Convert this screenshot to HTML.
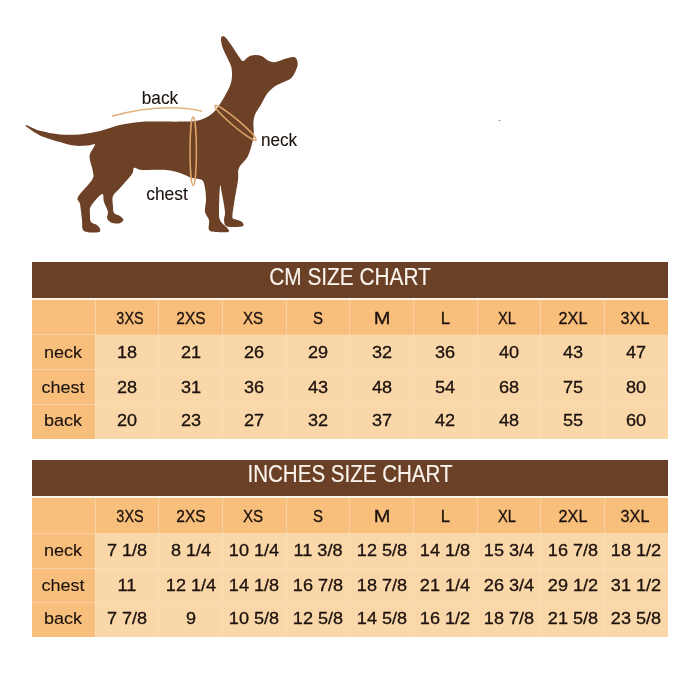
<!DOCTYPE html>
<html><head><meta charset="utf-8"><title>Size chart</title>
<style>
html,body{margin:0;padding:0;background:#fff;}
body{width:700px;height:700px;position:relative;overflow:hidden;font-family:"Liberation Sans",sans-serif;color:#1c120e;}
svg{position:absolute;left:0;top:0;}
.bar{position:absolute;left:32px;width:636px;height:35.8px;background:#6A4127;}
.tbl{position:absolute;left:32px;width:636px;background:#F9D7A8;}
.dk{position:absolute;background:#F7BF7B;}
.vs{position:absolute;width:1px;background:#fff;}
.hs{position:absolute;left:32px;height:1px;background:#fff;}
.t{position:absolute;white-space:nowrap;line-height:1em;-webkit-text-stroke:0.3px currentColor;}
#tx{position:absolute;left:0;top:0;width:700px;height:700px;will-change:transform;}
.w{color:#fbf4ec;-webkit-text-stroke:0.15px currentColor;}
.lt{-webkit-text-stroke:0.1px currentColor;}
</style></head><body>
<svg width="700" height="260" viewBox="0 0 700 260">
<path d="M26.8,125.2C29.1,125.9 34.5,129.3 40.0,130.8C45.5,132.3 53.3,133.8 60.0,134.4C66.7,135.0 73.3,135.0 80.0,134.4C86.7,133.8 93.3,132.6 100.0,131.0C106.7,129.4 113.3,126.5 120.0,125.0C126.7,123.5 133.3,122.6 140.0,122.0C146.7,121.4 153.3,121.7 160.0,121.6C166.7,121.5 174.2,121.7 180.0,121.6C185.8,121.5 190.6,121.9 195.1,121.1C199.6,120.3 203.7,118.8 207.1,116.9C210.5,115.1 212.8,113.3 215.7,110.0C218.6,106.7 221.9,101.2 224.3,97.1C226.7,92.9 229.0,88.8 230.3,85.1C231.6,81.4 231.9,78.0 232.0,74.9C232.1,71.8 231.9,69.3 231.1,66.3C230.2,63.3 228.3,60.0 226.9,56.9C225.5,53.8 223.6,50.4 222.6,47.4C221.6,44.4 220.9,40.8 220.9,38.9C220.9,37.0 221.8,36.4 222.6,36.3C223.4,36.1 224.3,36.1 226.0,38.0C227.7,39.9 230.6,44.1 232.9,47.4C235.2,50.7 238.0,55.4 239.7,57.7C241.4,60.0 241.7,61.2 243.1,61.1C244.5,61.0 246.3,57.9 248.3,56.9C250.3,55.9 252.8,55.2 255.1,55.1C257.4,55.0 259.7,55.3 262.0,56.3C264.3,57.3 266.6,60.1 268.9,61.1C271.2,62.1 272.8,62.4 275.7,62.0C278.6,61.6 283.1,59.5 286.0,58.6C288.9,57.8 291.2,56.9 292.9,56.9C294.6,56.9 295.5,57.3 296.3,58.6C297.1,59.9 297.9,62.5 297.7,64.6C297.5,66.7 296.5,69.1 295.4,71.4C294.3,73.7 293.2,76.4 291.1,78.3C289.0,80.2 285.5,81.2 282.6,82.6C279.8,84.0 276.6,85.1 274.0,86.9C271.4,88.8 269.4,90.6 267.1,93.7C264.8,96.8 262.3,102.3 260.3,105.7C258.3,109.1 256.2,111.4 255.1,114.3C253.9,117.2 253.6,119.8 253.4,122.9C253.2,126.0 253.9,130.2 253.8,133.1C253.7,135.9 254.0,136.2 253.0,140.0C252.0,143.8 250.3,151.3 248.0,156.0C245.7,160.7 240.7,164.0 239.0,168.0C237.3,172.0 238.8,174.0 238.0,180.0C237.2,186.0 234.9,197.8 234.0,204.0C233.1,210.2 232.1,214.4 232.4,217.0C232.7,219.6 234.4,218.8 236.0,219.6C237.6,220.4 240.8,220.9 242.0,222.0C243.2,223.1 244.3,225.2 243.0,226.0C241.7,226.8 236.8,227.0 234.0,227.0C231.2,227.0 227.7,227.2 226.0,226.0C224.3,224.8 224.2,222.3 224.0,220.0C223.8,217.7 225.3,216.3 225.0,212.0C224.7,207.7 222.8,198.3 222.0,194.0C221.2,189.7 220.5,183.0 220.0,186.0C219.5,189.0 219.0,206.3 219.0,212.0C219.0,217.7 219.2,217.8 220.0,220.0C220.8,222.2 222.7,223.5 224.0,225.0C225.3,226.5 227.3,227.8 228.0,229.0C228.7,230.2 230.0,231.5 228.0,232.0C226.0,232.5 219.2,232.3 216.0,232.0C212.8,231.7 210.2,232.0 209.0,230.0C207.8,228.0 209.7,223.0 209.0,220.0C208.3,217.0 205.5,215.3 205.0,212.0C204.5,208.7 206.0,204.0 206.0,200.0C206.0,196.0 205.7,191.3 205.0,188.0C204.3,184.7 204.2,181.7 202.0,180.0C199.8,178.3 195.7,179.2 192.0,178.0C188.3,176.8 184.3,174.3 180.0,173.0C175.7,171.7 172.3,170.5 166.0,170.0C159.7,169.5 147.3,170.3 142.0,170.0C136.7,169.7 135.7,167.3 134.0,168.0C132.3,168.7 134.3,170.7 132.0,174.0C129.7,177.3 123.2,184.3 120.0,188.0C116.8,191.7 114.2,193.0 113.0,196.0C111.8,199.0 112.8,203.2 113.0,206.0C113.2,208.8 112.8,211.3 114.0,213.0C115.2,214.7 118.4,214.8 120.0,216.0C121.6,217.2 123.6,218.8 123.4,220.0C123.2,221.2 121.1,223.0 119.0,223.4C116.9,223.8 113.0,223.3 111.0,222.4C109.0,221.5 107.5,219.7 107.0,218.0C106.5,216.3 108.5,214.7 108.0,212.0C107.5,209.3 105.0,205.0 104.0,202.0C103.0,199.0 104.2,193.3 102.0,194.0C99.8,194.7 93.0,202.7 91.0,206.0C89.0,209.3 90.0,211.3 90.0,214.0C90.0,216.7 89.8,220.2 91.0,222.0C92.2,223.8 95.5,223.8 97.0,225.0C98.5,226.2 99.7,227.8 100.0,229.0C100.3,230.2 100.7,231.4 99.0,232.0C97.3,232.6 92.7,232.7 90.0,232.4C87.3,232.1 84.3,232.1 83.0,230.0C81.7,227.9 82.5,224.3 82.0,220.0C81.5,215.7 80.7,207.8 80.0,204.0C79.3,200.2 76.0,201.0 78.0,197.0C80.0,193.0 89.5,184.2 92.0,180.0C94.5,175.8 93.3,175.3 93.0,172.0C92.7,168.7 90.5,163.0 90.0,160.0C89.5,157.0 89.2,156.6 90.0,154.0C90.8,151.4 95.3,145.8 95.0,144.4C94.7,143.0 91.5,145.4 88.0,145.6C84.5,145.8 78.7,146.2 74.0,145.6C69.3,145.0 65.7,143.7 60.0,142.0C54.3,140.3 45.4,137.8 40.0,135.4C34.6,133.0 29.9,129.1 27.6,127.6C25.3,126.1 26.3,126.8 26.2,126.4C26.1,126.0 24.5,124.5 26.8,125.2Z" fill="#6C4126"/>
<path d="M112.5,116 Q162,102.5 201.5,111" fill="none" stroke="#DDA468" stroke-width="1.5" stroke-linecap="round" opacity=".85"/>
<ellipse cx="193.2" cy="151.3" rx="3.15" ry="34.3" fill="none" stroke="#DDA468" stroke-width="1.5"/>
<ellipse cx="235.5" cy="122.8" rx="26.7" ry="3.5" fill="none" stroke="#DDA468" stroke-width="1.5" transform="rotate(40 235.5 122.8)"/>
<circle cx="499.5" cy="120.5" r="0.8" fill="#8a8a8a"/>
</svg>
<div id="tx">
<div class="t lt" style="left:159.60px;top:107.63px;font-size:17.8px;transform:translate(-50%,-100%) scaleX(0.97)">back</div>
<div class="t lt" style="left:278.60px;top:149.63px;font-size:17.8px;transform:translate(-50%,-100%) scaleX(0.963)">neck</div>
<div class="t lt" style="left:167.30px;top:204.43px;font-size:17.8px;transform:translate(-50%,-100%) scaleX(0.98)">chest</div>
<div class="bar" style="top:262.1px"></div>
<div class="t w" style="left:349.80px;top:288.73px;font-size:23px;transform:translate(-50%,-100%) scaleX(0.905)">CM SIZE CHART</div>
<div style="position:absolute;left:32px;width:636px;top:297.90000000000003px;height:2.2px;background:#fdf4e8"></div>
<div class="tbl" style="top:300.1px;height:139.0px"></div>
<div class="dk" style="left:32px;top:300.1px;width:636px;height:34.5px"></div>
<div class="dk" style="left:32px;top:300.1px;width:63px;height:139.0px"></div>
<div class="vs" style="left:94.50px;top:300.1px;height:34.8px;opacity:.3"></div>
<div class="vs" style="left:94.50px;top:334.9px;height:104.2px;opacity:.16"></div>
<div class="vs" style="left:158.17px;top:300.1px;height:34.8px;opacity:.3"></div>
<div class="vs" style="left:158.17px;top:334.9px;height:104.2px;opacity:.16"></div>
<div class="vs" style="left:221.83px;top:300.1px;height:34.8px;opacity:.3"></div>
<div class="vs" style="left:221.83px;top:334.9px;height:104.2px;opacity:.16"></div>
<div class="vs" style="left:285.50px;top:300.1px;height:34.8px;opacity:.3"></div>
<div class="vs" style="left:285.50px;top:334.9px;height:104.2px;opacity:.16"></div>
<div class="vs" style="left:349.17px;top:300.1px;height:34.8px;opacity:.3"></div>
<div class="vs" style="left:349.17px;top:334.9px;height:104.2px;opacity:.16"></div>
<div class="vs" style="left:412.83px;top:300.1px;height:34.8px;opacity:.3"></div>
<div class="vs" style="left:412.83px;top:334.9px;height:104.2px;opacity:.16"></div>
<div class="vs" style="left:476.50px;top:300.1px;height:34.8px;opacity:.3"></div>
<div class="vs" style="left:476.50px;top:334.9px;height:104.2px;opacity:.16"></div>
<div class="vs" style="left:540.17px;top:300.1px;height:34.8px;opacity:.3"></div>
<div class="vs" style="left:540.17px;top:334.9px;height:104.2px;opacity:.16"></div>
<div class="vs" style="left:603.83px;top:300.1px;height:34.8px;opacity:.3"></div>
<div class="vs" style="left:603.83px;top:334.9px;height:104.2px;opacity:.16"></div>
<div class="hs" style="top:334.40px;width:63px;opacity:.3"></div>
<div class="hs" style="top:334.40px;left:95px;width:573px;opacity:.16"></div>
<div class="hs" style="top:369.20px;width:63px;opacity:.3"></div>
<div class="hs" style="top:369.20px;left:95px;width:573px;opacity:.16"></div>
<div class="hs" style="top:404.00px;width:63px;opacity:.3"></div>
<div class="hs" style="top:404.00px;left:95px;width:573px;opacity:.16"></div>
<div class="t" style="left:129.83px;top:327.86px;font-size:16.7px;transform:translate(-50%,-100%) scaleX(0.865)">3XS</div>
<div class="t" style="left:190.80px;top:327.86px;font-size:16.7px;transform:translate(-50%,-100%) scaleX(0.93)">2XS</div>
<div class="t" style="left:253.47px;top:327.86px;font-size:16.7px;transform:translate(-50%,-100%) scaleX(0.905)">XS</div>
<div class="t" style="left:318.33px;top:327.86px;font-size:16.7px;transform:translate(-50%,-100%) scaleX(0.9)">S</div>
<div class="t" style="left:381.60px;top:327.86px;font-size:16.7px;transform:translate(-50%,-100%) scaleX(1.2)">M</div>
<div class="t" style="left:445.37px;top:327.86px;font-size:16.7px;transform:translate(-50%,-100%) scaleX(1.0)">L</div>
<div class="t" style="left:506.93px;top:327.86px;font-size:16.7px;transform:translate(-50%,-100%) scaleX(0.88)">XL</div>
<div class="t" style="left:572.50px;top:327.86px;font-size:16.7px;transform:translate(-50%,-100%) scaleX(0.97)">2XL</div>
<div class="t" style="left:634.97px;top:327.86px;font-size:16.7px;transform:translate(-50%,-100%) scaleX(0.97)">3XL</div>
<div class="t lt" style="left:63.00px;top:360.94px;font-size:17.2px;transform:translate(-50%,-100%) scaleX(1.05)">neck</div>
<div class="t" style="left:127.13px;top:362.05px;font-size:16.6px;transform:translate(-50%,-100%) scaleX(1.09)">18</div>
<div class="t" style="left:190.80px;top:362.05px;font-size:16.6px;transform:translate(-50%,-100%) scaleX(1.09)">21</div>
<div class="t" style="left:254.47px;top:362.05px;font-size:16.6px;transform:translate(-50%,-100%) scaleX(1.09)">26</div>
<div class="t" style="left:318.13px;top:362.05px;font-size:16.6px;transform:translate(-50%,-100%) scaleX(1.09)">29</div>
<div class="t" style="left:381.80px;top:362.05px;font-size:16.6px;transform:translate(-50%,-100%) scaleX(1.09)">32</div>
<div class="t" style="left:445.47px;top:362.05px;font-size:16.6px;transform:translate(-50%,-100%) scaleX(1.09)">36</div>
<div class="t" style="left:509.13px;top:362.05px;font-size:16.6px;transform:translate(-50%,-100%) scaleX(1.09)">40</div>
<div class="t" style="left:572.80px;top:362.05px;font-size:16.6px;transform:translate(-50%,-100%) scaleX(1.09)">43</div>
<div class="t" style="left:636.47px;top:362.05px;font-size:16.6px;transform:translate(-50%,-100%) scaleX(1.09)">47</div>
<div class="t lt" style="left:63.00px;top:395.94px;font-size:17.2px;transform:translate(-50%,-100%) scaleX(1.05)">chest</div>
<div class="t" style="left:127.13px;top:397.05px;font-size:16.6px;transform:translate(-50%,-100%) scaleX(1.09)">28</div>
<div class="t" style="left:190.80px;top:397.05px;font-size:16.6px;transform:translate(-50%,-100%) scaleX(1.09)">31</div>
<div class="t" style="left:254.47px;top:397.05px;font-size:16.6px;transform:translate(-50%,-100%) scaleX(1.09)">36</div>
<div class="t" style="left:318.13px;top:397.05px;font-size:16.6px;transform:translate(-50%,-100%) scaleX(1.09)">43</div>
<div class="t" style="left:381.80px;top:397.05px;font-size:16.6px;transform:translate(-50%,-100%) scaleX(1.09)">48</div>
<div class="t" style="left:445.47px;top:397.05px;font-size:16.6px;transform:translate(-50%,-100%) scaleX(1.09)">54</div>
<div class="t" style="left:509.13px;top:397.05px;font-size:16.6px;transform:translate(-50%,-100%) scaleX(1.09)">68</div>
<div class="t" style="left:572.80px;top:397.05px;font-size:16.6px;transform:translate(-50%,-100%) scaleX(1.09)">75</div>
<div class="t" style="left:636.47px;top:397.05px;font-size:16.6px;transform:translate(-50%,-100%) scaleX(1.09)">80</div>
<div class="t lt" style="left:63.00px;top:429.34px;font-size:17.2px;transform:translate(-50%,-100%) scaleX(1.05)">back</div>
<div class="t" style="left:127.13px;top:430.45px;font-size:16.6px;transform:translate(-50%,-100%) scaleX(1.09)">20</div>
<div class="t" style="left:190.80px;top:430.45px;font-size:16.6px;transform:translate(-50%,-100%) scaleX(1.09)">23</div>
<div class="t" style="left:254.47px;top:430.45px;font-size:16.6px;transform:translate(-50%,-100%) scaleX(1.09)">27</div>
<div class="t" style="left:318.13px;top:430.45px;font-size:16.6px;transform:translate(-50%,-100%) scaleX(1.09)">32</div>
<div class="t" style="left:381.80px;top:430.45px;font-size:16.6px;transform:translate(-50%,-100%) scaleX(1.09)">37</div>
<div class="t" style="left:445.47px;top:430.45px;font-size:16.6px;transform:translate(-50%,-100%) scaleX(1.09)">42</div>
<div class="t" style="left:509.13px;top:430.45px;font-size:16.6px;transform:translate(-50%,-100%) scaleX(1.09)">48</div>
<div class="t" style="left:572.80px;top:430.45px;font-size:16.6px;transform:translate(-50%,-100%) scaleX(1.09)">55</div>
<div class="t" style="left:636.47px;top:430.45px;font-size:16.6px;transform:translate(-50%,-100%) scaleX(1.09)">60</div>
<div class="bar" style="top:460.4px"></div>
<div class="t w" style="left:349.60px;top:486.43px;font-size:23px;transform:translate(-50%,-100%) scaleX(0.893)">INCHES SIZE CHART</div>
<div style="position:absolute;left:32px;width:636px;top:496.2px;height:2.2px;background:#fdf4e8"></div>
<div class="tbl" style="top:498.4px;height:139.0px"></div>
<div class="dk" style="left:32px;top:498.4px;width:636px;height:34.5px"></div>
<div class="dk" style="left:32px;top:498.4px;width:63px;height:139.0px"></div>
<div class="vs" style="left:94.50px;top:498.4px;height:34.8px;opacity:.3"></div>
<div class="vs" style="left:94.50px;top:533.2px;height:104.2px;opacity:.16"></div>
<div class="vs" style="left:158.17px;top:498.4px;height:34.8px;opacity:.3"></div>
<div class="vs" style="left:158.17px;top:533.2px;height:104.2px;opacity:.16"></div>
<div class="vs" style="left:221.83px;top:498.4px;height:34.8px;opacity:.3"></div>
<div class="vs" style="left:221.83px;top:533.2px;height:104.2px;opacity:.16"></div>
<div class="vs" style="left:285.50px;top:498.4px;height:34.8px;opacity:.3"></div>
<div class="vs" style="left:285.50px;top:533.2px;height:104.2px;opacity:.16"></div>
<div class="vs" style="left:349.17px;top:498.4px;height:34.8px;opacity:.3"></div>
<div class="vs" style="left:349.17px;top:533.2px;height:104.2px;opacity:.16"></div>
<div class="vs" style="left:412.83px;top:498.4px;height:34.8px;opacity:.3"></div>
<div class="vs" style="left:412.83px;top:533.2px;height:104.2px;opacity:.16"></div>
<div class="vs" style="left:476.50px;top:498.4px;height:34.8px;opacity:.3"></div>
<div class="vs" style="left:476.50px;top:533.2px;height:104.2px;opacity:.16"></div>
<div class="vs" style="left:540.17px;top:498.4px;height:34.8px;opacity:.3"></div>
<div class="vs" style="left:540.17px;top:533.2px;height:104.2px;opacity:.16"></div>
<div class="vs" style="left:603.83px;top:498.4px;height:34.8px;opacity:.3"></div>
<div class="vs" style="left:603.83px;top:533.2px;height:104.2px;opacity:.16"></div>
<div class="hs" style="top:532.70px;width:63px;opacity:.3"></div>
<div class="hs" style="top:532.70px;left:95px;width:573px;opacity:.16"></div>
<div class="hs" style="top:567.50px;width:63px;opacity:.3"></div>
<div class="hs" style="top:567.50px;left:95px;width:573px;opacity:.16"></div>
<div class="hs" style="top:602.30px;width:63px;opacity:.3"></div>
<div class="hs" style="top:602.30px;left:95px;width:573px;opacity:.16"></div>
<div class="t" style="left:129.83px;top:525.76px;font-size:16.7px;transform:translate(-50%,-100%) scaleX(0.865)">3XS</div>
<div class="t" style="left:190.80px;top:525.76px;font-size:16.7px;transform:translate(-50%,-100%) scaleX(0.93)">2XS</div>
<div class="t" style="left:253.47px;top:525.76px;font-size:16.7px;transform:translate(-50%,-100%) scaleX(0.905)">XS</div>
<div class="t" style="left:318.33px;top:525.76px;font-size:16.7px;transform:translate(-50%,-100%) scaleX(0.9)">S</div>
<div class="t" style="left:381.60px;top:525.76px;font-size:16.7px;transform:translate(-50%,-100%) scaleX(1.2)">M</div>
<div class="t" style="left:445.37px;top:525.76px;font-size:16.7px;transform:translate(-50%,-100%) scaleX(1.0)">L</div>
<div class="t" style="left:506.93px;top:525.76px;font-size:16.7px;transform:translate(-50%,-100%) scaleX(0.88)">XL</div>
<div class="t" style="left:572.50px;top:525.76px;font-size:16.7px;transform:translate(-50%,-100%) scaleX(0.97)">2XL</div>
<div class="t" style="left:634.97px;top:525.76px;font-size:16.7px;transform:translate(-50%,-100%) scaleX(0.97)">3XL</div>
<div class="t lt" style="left:63.00px;top:558.94px;font-size:17.2px;transform:translate(-50%,-100%) scaleX(1.05)">neck</div>
<div class="t" style="left:127.13px;top:560.05px;font-size:16.6px;transform:translate(-50%,-100%) scaleX(1.09)">7 1/8</div>
<div class="t" style="left:190.80px;top:560.05px;font-size:16.6px;transform:translate(-50%,-100%) scaleX(1.09)">8 1/4</div>
<div class="t" style="left:254.47px;top:560.05px;font-size:16.6px;transform:translate(-50%,-100%) scaleX(1.09)">10 1/4</div>
<div class="t" style="left:318.13px;top:560.05px;font-size:16.6px;transform:translate(-50%,-100%) scaleX(1.09)">11 3/8</div>
<div class="t" style="left:381.80px;top:560.05px;font-size:16.6px;transform:translate(-50%,-100%) scaleX(1.09)">12 5/8</div>
<div class="t" style="left:445.47px;top:560.05px;font-size:16.6px;transform:translate(-50%,-100%) scaleX(1.09)">14 1/8</div>
<div class="t" style="left:509.13px;top:560.05px;font-size:16.6px;transform:translate(-50%,-100%) scaleX(1.09)">15 3/4</div>
<div class="t" style="left:572.80px;top:560.05px;font-size:16.6px;transform:translate(-50%,-100%) scaleX(1.09)">16 7/8</div>
<div class="t" style="left:636.47px;top:560.05px;font-size:16.6px;transform:translate(-50%,-100%) scaleX(1.09)">18 1/2</div>
<div class="t lt" style="left:63.00px;top:593.84px;font-size:17.2px;transform:translate(-50%,-100%) scaleX(1.05)">chest</div>
<div class="t" style="left:127.13px;top:594.95px;font-size:16.6px;transform:translate(-50%,-100%) scaleX(1.09)">11</div>
<div class="t" style="left:190.80px;top:594.95px;font-size:16.6px;transform:translate(-50%,-100%) scaleX(1.09)">12 1/4</div>
<div class="t" style="left:254.47px;top:594.95px;font-size:16.6px;transform:translate(-50%,-100%) scaleX(1.09)">14 1/8</div>
<div class="t" style="left:318.13px;top:594.95px;font-size:16.6px;transform:translate(-50%,-100%) scaleX(1.09)">16 7/8</div>
<div class="t" style="left:381.80px;top:594.95px;font-size:16.6px;transform:translate(-50%,-100%) scaleX(1.09)">18 7/8</div>
<div class="t" style="left:445.47px;top:594.95px;font-size:16.6px;transform:translate(-50%,-100%) scaleX(1.09)">21 1/4</div>
<div class="t" style="left:509.13px;top:594.95px;font-size:16.6px;transform:translate(-50%,-100%) scaleX(1.09)">26 3/4</div>
<div class="t" style="left:572.80px;top:594.95px;font-size:16.6px;transform:translate(-50%,-100%) scaleX(1.09)">29 1/2</div>
<div class="t" style="left:636.47px;top:594.95px;font-size:16.6px;transform:translate(-50%,-100%) scaleX(1.09)">31 1/2</div>
<div class="t lt" style="left:63.00px;top:626.84px;font-size:17.2px;transform:translate(-50%,-100%) scaleX(1.05)">back</div>
<div class="t" style="left:127.13px;top:627.95px;font-size:16.6px;transform:translate(-50%,-100%) scaleX(1.09)">7 7/8</div>
<div class="t" style="left:190.80px;top:627.95px;font-size:16.6px;transform:translate(-50%,-100%) scaleX(1.09)">9</div>
<div class="t" style="left:254.47px;top:627.95px;font-size:16.6px;transform:translate(-50%,-100%) scaleX(1.09)">10 5/8</div>
<div class="t" style="left:318.13px;top:627.95px;font-size:16.6px;transform:translate(-50%,-100%) scaleX(1.09)">12 5/8</div>
<div class="t" style="left:381.80px;top:627.95px;font-size:16.6px;transform:translate(-50%,-100%) scaleX(1.09)">14 5/8</div>
<div class="t" style="left:445.47px;top:627.95px;font-size:16.6px;transform:translate(-50%,-100%) scaleX(1.09)">16 1/2</div>
<div class="t" style="left:509.13px;top:627.95px;font-size:16.6px;transform:translate(-50%,-100%) scaleX(1.09)">18 7/8</div>
<div class="t" style="left:572.80px;top:627.95px;font-size:16.6px;transform:translate(-50%,-100%) scaleX(1.09)">21 5/8</div>
<div class="t" style="left:636.47px;top:627.95px;font-size:16.6px;transform:translate(-50%,-100%) scaleX(1.09)">23 5/8</div>
</div>
</body></html>
